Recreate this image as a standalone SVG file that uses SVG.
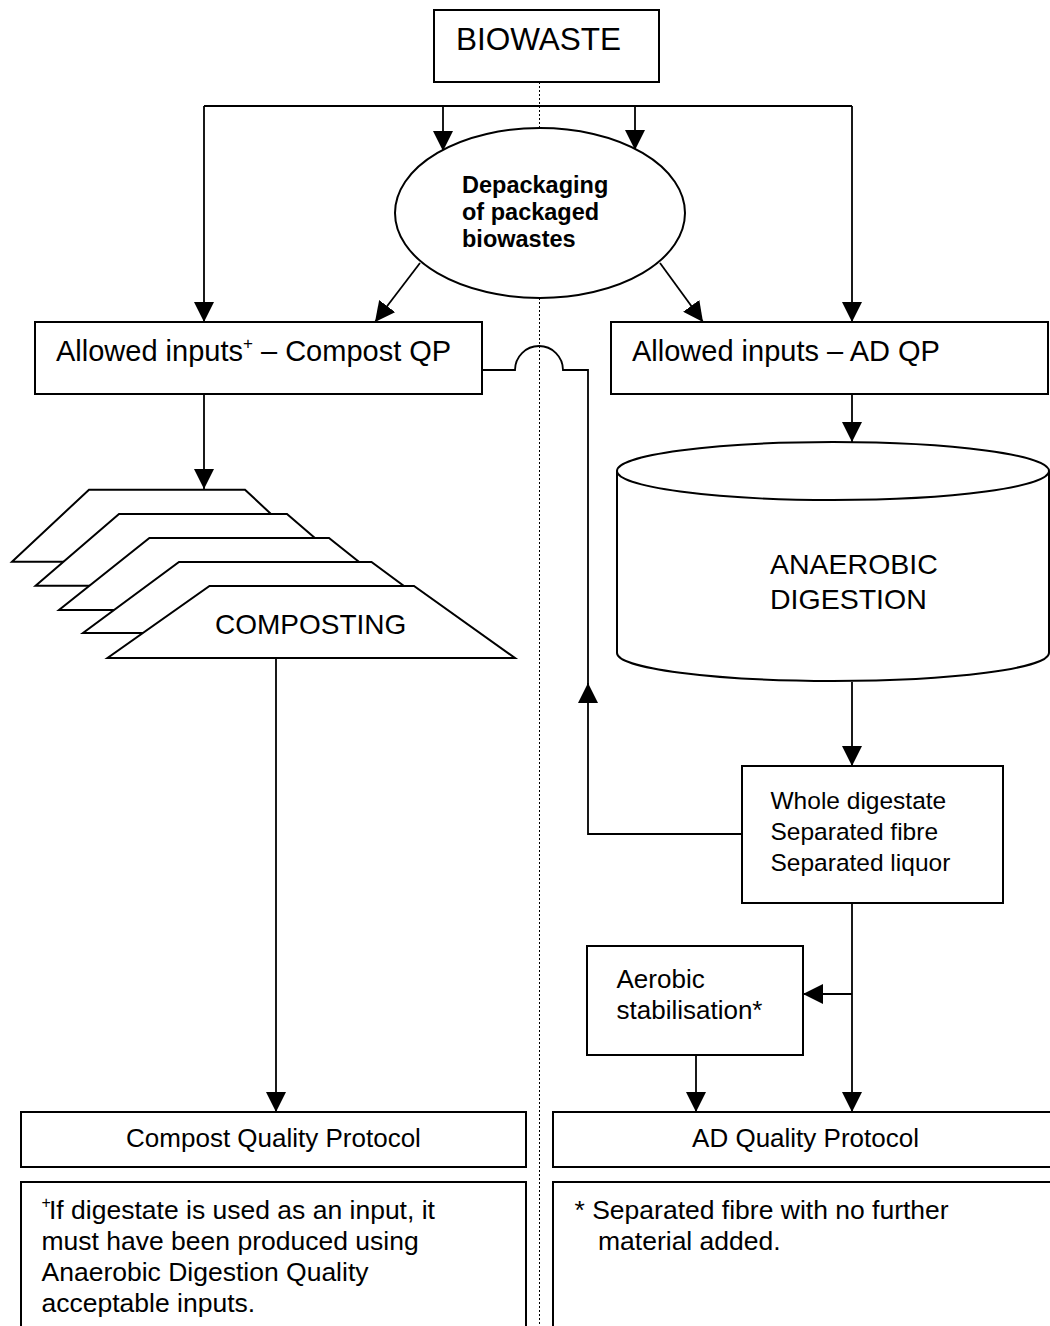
<svg xmlns="http://www.w3.org/2000/svg" width="1050" height="1326" viewBox="0 0 1050 1326">
<style>
  .box { fill: #fff; stroke: #000; stroke-width: 2; }
  .ln { fill: none; stroke: #000; stroke-width: 1.8; }
  .arr { fill: none; stroke: #000; stroke-width: 1.8; marker-end: url(#ah); }
  .t { font-family: "Liberation Sans", Arial, sans-serif; fill: #000; }
  .dot { stroke: #000; stroke-width: 1; stroke-dasharray: 2 2; fill: none; }
</style>
<defs>
  <marker id="ah" markerUnits="userSpaceOnUse" markerWidth="20" markerHeight="20" viewBox="0 0 20 20" refX="20" refY="10" orient="auto">
    <path d="M0,0 L20,10 L0,20 z" fill="#000"/>
  </marker>
</defs>
<rect width="1050" height="1326" fill="#fff"/>

<!-- divider -->
<line class="dot" x1="539.5" y1="82" x2="539.5" y2="1326"/>

<g id="connectors">
  <path class="ln" d="M204,106 L852,106"/>
  <path class="arr" d="M204,106 L204,322"/>
  <path class="arr" d="M443,106 L443,151"/>
  <path class="arr" d="M635,106 L635,150"/>
  <path class="arr" d="M852,106 L852,322"/>
  <path class="arr" d="M420,263 L375,322"/>
  <path class="arr" d="M660,263 L703,322"/>
  <path class="arr" d="M204,394 L204,489"/>
  <path class="arr" d="M852,394 L852,442"/>
  <path class="arr" d="M852,682 L852,766"/>
  <path class="arr" d="M742,834 L588,834 L588,683"/>
  <path class="ln" d="M588,690 L588,370 L563,370 A24,24 0 0 0 515,370 L482,370"/>
  <path class="arr" d="M852,903 L852,1112"/>
  <path class="arr" d="M852,994 L803,994"/>
  <path class="arr" d="M696,1055 L696,1112"/>
  <path class="arr" d="M276,658 L276,1112"/>
</g>

<g id="biowaste">
  <rect class="box" x="434" y="10" width="225" height="72"/>
  <text class="t" x="456" y="50" font-size="31.5">BIOWASTE</text>
</g>

<g id="depackaging">
  <ellipse class="box" cx="540" cy="213" rx="145" ry="85"/>
  <text class="t" font-size="23.5" font-weight="bold"><tspan x="462" y="192.5">Depackaging</tspan><tspan x="462" y="219.5">of packaged</tspan><tspan x="462" y="246.5">biowastes</tspan></text>
</g>

<g id="compost-inputs">
  <rect class="box" x="35" y="322" width="447" height="72"/>
  <text class="t" x="56" y="361" font-size="29">Allowed inputs<tspan font-size="17" dy="-12">+</tspan><tspan dy="12"> – Compost QP</tspan></text>
</g>

<g id="ad-inputs">
  <rect class="box" x="611" y="322" width="437" height="72"/>
  <text class="t" x="632" y="361" font-size="29">Allowed inputs – AD QP</text>
</g>

<g id="composting">
  <polygon class="box" points="89,489.7 245,489.7 322,561.7 12,561.7"/>
  <polygon class="box" points="119,514 287,514 370.4,585.7 35.6,585.7"/>
  <polygon class="box" points="149.4,538 329,538 419.4,610 59,610"/>
  <polygon class="box" points="179,562 371.5,562 467.5,633 83,633"/>
  <polygon class="box" points="209.5,586 414,586 515,658 107.5,658"/>
  <text class="t" x="215" y="634" font-size="28">COMPOSTING</text>
</g>

<g id="anaerobic-digestion">
  <path class="box" d="M617,471 A216,29 0 0 1 1049,471 L1049,653 A216,28 0 0 1 617,653 Z"/>
  <path class="ln" d="M617,471 A216,29 0 0 0 1049,471" stroke-width="2"/>
  <text class="t" font-size="28.5"><tspan x="770" y="574">ANAEROBIC</tspan><tspan x="770" y="609">DIGESTION</tspan></text>
</g>

<g id="digestate">
  <rect class="box" x="742" y="766" width="261" height="137"/>
  <text class="t" font-size="24.5"><tspan x="770.5" y="809">Whole digestate</tspan><tspan x="770.5" y="840">Separated fibre</tspan><tspan x="770.5" y="871">Separated liquor</tspan></text>
</g>

<g id="aerobic">
  <rect class="box" x="587" y="946" width="216" height="109"/>
  <text class="t" font-size="26"><tspan x="616.5" y="988">Aerobic</tspan><tspan x="616.5" y="1019">stabilisation*</tspan></text>
</g>

<g id="compost-qp">
  <rect class="box" x="21" y="1112" width="505" height="55"/>
  <text class="t" x="273.5" y="1147" font-size="26" text-anchor="middle">Compost Quality Protocol</text>
</g>

<g id="ad-qp">
  <rect class="box" x="553" y="1112" width="507" height="55"/>
  <text class="t" x="805.5" y="1147" font-size="26" text-anchor="middle">AD Quality Protocol</text>
</g>

<g id="note-compost">
  <rect class="box" x="21" y="1182" width="505" height="160"/>
  <text class="t" font-size="26.5"><tspan x="41.5" y="1208" font-size="16">+</tspan><tspan x="49" y="1219">If digestate is used as an input, it</tspan><tspan x="41.5" y="1250">must have been produced using</tspan><tspan x="41.5" y="1281">Anaerobic Digestion Quality</tspan><tspan x="41.5" y="1312">acceptable inputs.</tspan></text>
</g>

<g id="note-ad">
  <rect class="box" x="553" y="1182" width="507" height="160"/>
  <text class="t" font-size="26.5"><tspan x="574.5" y="1219">* Separated fibre with no further</tspan><tspan x="598" y="1250">material added.</tspan></text>
</g>
</svg>
